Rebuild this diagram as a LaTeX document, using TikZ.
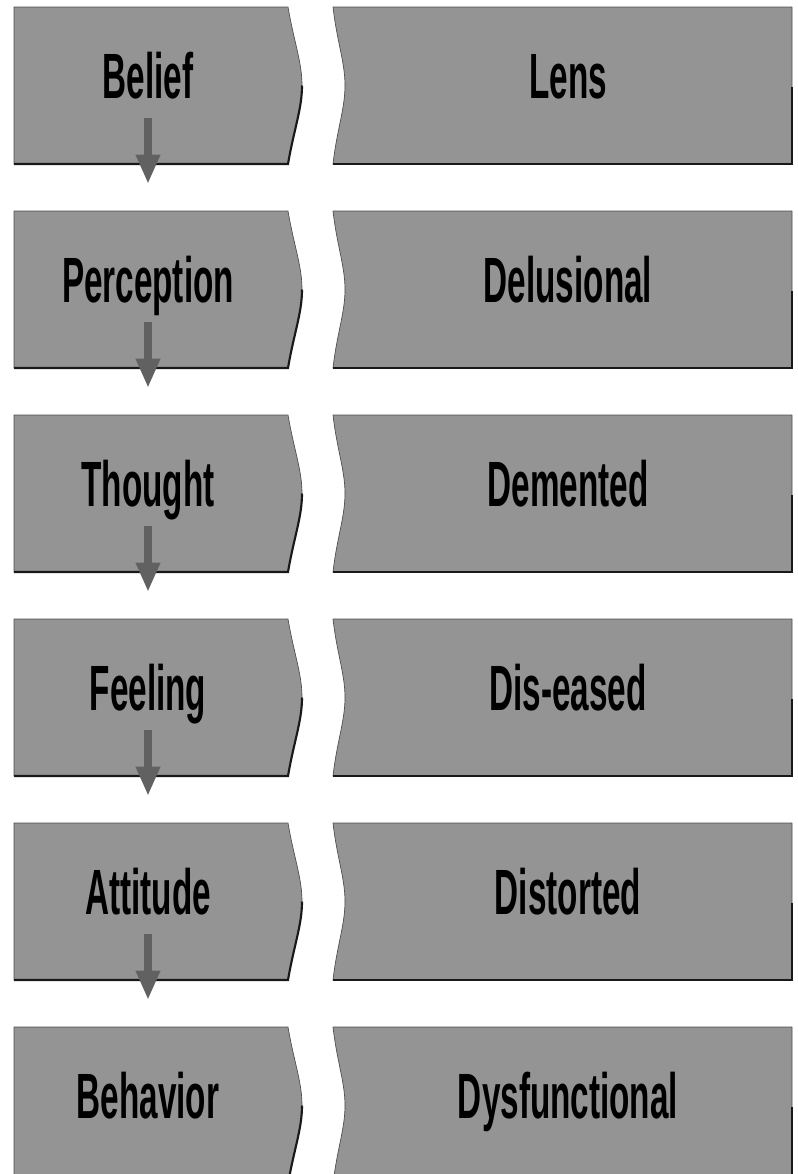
\documentclass[tikz,border=0pt]{standalone}
\usepackage{fontspec}
\setmainfont{Liberation Sans}
\usetikzlibrary{arrows.meta}
\newcommand{\narrowword}[1]{\scalebox{0.52}[1]{#1}}

\begin{document}
\begin{tikzpicture}[x=0.75pt, y=-0.75pt,
  slab/.style={fill=black!42, draw=black!70, line width=0.5pt},
  rim/.style={draw=black!90, line width=1.6pt},
  word/.style={anchor=base, inner sep=0pt,
    font=\bfseries\fontsize{48}{48}\selectfont},
  flow/.style={-{Triangle[width=17pt,length=22pt]}, line width=6pt, draw=black!62}]
  \useasboundingbox (0,0) rectangle (798,1174);
  \clip (0,0) rectangle (798,1174);
  \foreach \a/\b [count=\i from 0] in {Belief/Lens, Perception/Delusional,
      Thought/Demented, Feeling/Dis-eased, Attitude/Distorted,
      Behavior/Dysfunctional} {
    \pgfmathsetmacro{\t}{7+204*\i}
    % left slab, pointed
    \path[slab] (14,\t) -- (288,\t)
      .. controls (294,\t+35) and (302,\t+55) .. (302,\t+78.5)
      .. controls (302,\t+102) and (294,\t+122) .. (288,\t+157)
      -- (14,\t+157) -- cycle;
    \draw[rim] (14,\t+157) -- (288,\t+157)
      .. controls (294,\t+122) and (302,\t+102) .. (302,\t+78.5);
    % right slab, notched
    \path[slab] (333,\t) -- (792,\t) -- (792,\t+157) -- (333,\t+157)
      .. controls (337,\t+122) and (345,\t+102) .. (345,\t+78.5)
      .. controls (345,\t+55) and (337,\t+35) .. (333,\t) -- cycle;
    \draw[rim] (333,\t+157) -- (792,\t+157) -- (792,\t+80);
    % labels
    \node[word] (l\i) at (148,\t+91) {\narrowword{\a}};
    \node[word] (r\i) at (568,\t+91) {\narrowword{\b}};
    \ifnum\i<5
      \path (l\i.base) ++(0,20) coordinate (s\i) ++(0,66) coordinate (e\i);
      \draw[flow] (s\i) -- (e\i);
    \fi
  }
\end{tikzpicture}
\end{document}
